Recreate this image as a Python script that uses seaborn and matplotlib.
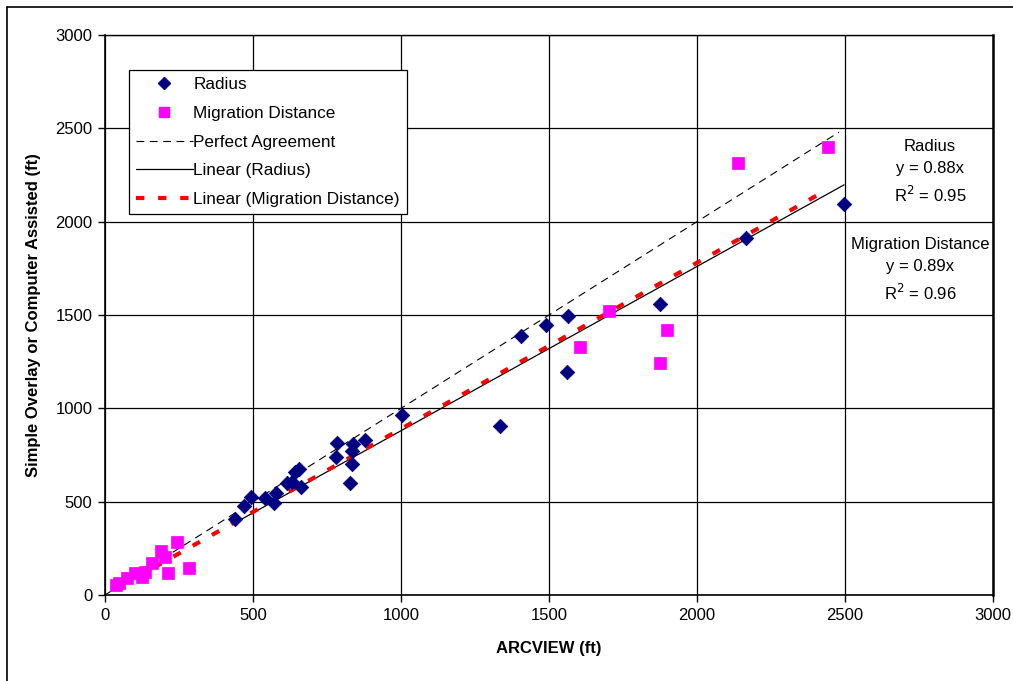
import numpy as np
import pandas as pd
import matplotlib
matplotlib.use("Agg")
import matplotlib.pyplot as plt
import seaborn as sns
from matplotlib.lines import Line2D

# Radius points (ARCVIEW vs simple overlay / computer assisted, ft)
radius_x = [440, 468, 493, 541, 572, 578, 616, 631, 642, 656, 663, 781, 785, 828,
            834, 836, 837, 877, 1003, 1333, 1406, 1489, 1561, 1563, 1876, 2167, 2497]
radius_y = [405, 476, 527, 519, 494, 545, 598, 607, 661, 676, 580, 737, 816, 598,
            702, 773, 809, 830, 965, 907, 1387, 1445, 1194, 1496, 1557, 1914, 2094]

# Migration distance points
migr_x = [36, 47, 73, 101, 125, 135, 158, 189, 203, 214, 242, 284,
          1605, 1704, 1875, 1899, 2139, 2441]
migr_y = [54, 66, 89, 116, 98, 125, 170, 236, 205, 116, 286, 143,
          1327, 1521, 1241, 1419, 2312, 2398]

radius_slope = 0.88
migr_slope = 0.89
perfect_end = 2480

radius_df = pd.DataFrame({"x": radius_x, "y": radius_y})
migr_df = pd.DataFrame({"x": migr_x, "y": migr_y})

sns.set_style("white")
plt.rcParams["font.family"] = ["Liberation Sans", "DejaVu Sans"]
plt.rcParams["text.color"] = "black"
plt.rcParams["axes.labelcolor"] = "black"
plt.rcParams["xtick.color"] = "black"
plt.rcParams["ytick.color"] = "black"

red_dash = (0, (2, 3.3))

fig = plt.figure(figsize=(10.13, 6.81), dpi=100)
ax = fig.add_axes([105 / 1013, 86 / 681, 888 / 1013, 560 / 681])

# lines
perf = pd.DataFrame({"x": [0, perfect_end], "y": [0, perfect_end]})
sns.lineplot(data=perf, x="x", y="y", ax=ax, color="black", lw=0.8,
             linestyle=(0, (7, 5)), zorder=3)

rx = np.array([min(radius_x), max(radius_x)])
rad_fit = pd.DataFrame({"x": rx, "y": rx * radius_slope})
sns.lineplot(data=rad_fit, x="x", y="y", ax=ax, color="black", lw=0.9, zorder=3)

mx = np.array([min(migr_x), max(migr_x)])
mig_fit = pd.DataFrame({"x": mx, "y": mx * migr_slope})
sns.lineplot(data=mig_fit, x="x", y="y", ax=ax, color="#FF0000", lw=3,
             linestyle=red_dash, zorder=4)

# points
sns.scatterplot(data=radius_df, x="x", y="y", ax=ax, marker="D", s=55,
                color="#000080", edgecolor="#000080", linewidth=0.5, zorder=5)
sns.scatterplot(data=migr_df, x="x", y="y", ax=ax, marker="s", s=70,
                color="#FF00FF", edgecolor="#FF00FF", linewidth=0.5, zorder=5)

ax.set_xlim(0, 3000)
ax.set_ylim(0, 3000)
ax.set_xticks(range(0, 3001, 500))
ax.set_yticks(range(0, 3001, 500))
ax.grid(True, color="black", lw=0.9)
ax.set_axisbelow(True)
for s in ["left", "bottom"]:
    ax.spines[s].set_color("black")
    ax.spines[s].set_linewidth(1.2)
ax.spines["right"].set_color("black")
ax.spines["right"].set_linewidth(1.8)
ax.spines["top"].set_color("black")
ax.spines["top"].set_linewidth(1.0)
ax.tick_params(axis="both", direction="out", length=5, width=1, color="black",
               labelsize=12, pad=4, bottom=True, left=True)

ax.set_xlabel("ARCVIEW (ft)", fontsize=12, fontweight="bold", labelpad=13)
ax.set_ylabel("Simple Overlay or Computer Assisted (ft)", fontsize=12,
              fontweight="bold", labelpad=10)

handles = [
    Line2D([], [], ls="none", marker="D", color="#000080", markersize=6.5),
    Line2D([], [], ls="none", marker="s", color="#FF00FF", markersize=7.5),
    Line2D([], [], color="black", lw=0.8, ls=(0, (7, 5))),
    Line2D([], [], color="black", lw=0.9),
    Line2D([], [], color="#FF0000", lw=3, ls=red_dash),
]
labels = ["Radius", "Migration Distance", "Perfect Agreement", "Linear (Radius)",
          "Linear (Migration Distance)"]
leg = ax.legend(handles, labels, loc="upper left", bbox_to_anchor=(0.027, 0.937),
                fontsize=12.3, frameon=True, fancybox=False, edgecolor="black",
                framealpha=1, borderpad=0.42, labelspacing=0.8, handlelength=3.3,
                handletextpad=0.05, borderaxespad=0)
leg.get_frame().set_linewidth(0.9)

ax.text(2787, 2266, "Radius\ny = 0.88x\nR$^2$ = 0.95", ha="center", va="center",
        fontsize=12, linespacing=1.55)
ax.text(2755, 1741, "Migration Distance\ny = 0.89x\nR$^2$ = 0.96", ha="center",
        va="center", fontsize=12, linespacing=1.55)

# outer chart border (left and top)
fig.add_artist(Line2D([7 / 1013, 7 / 1013], [0, 1 - 7 / 681], color="black", lw=1.2))
fig.add_artist(Line2D([7 / 1013, 1], [1 - 7 / 681, 1 - 7 / 681], color="black", lw=1.2))

fig.savefig("out.png", dpi=100)
